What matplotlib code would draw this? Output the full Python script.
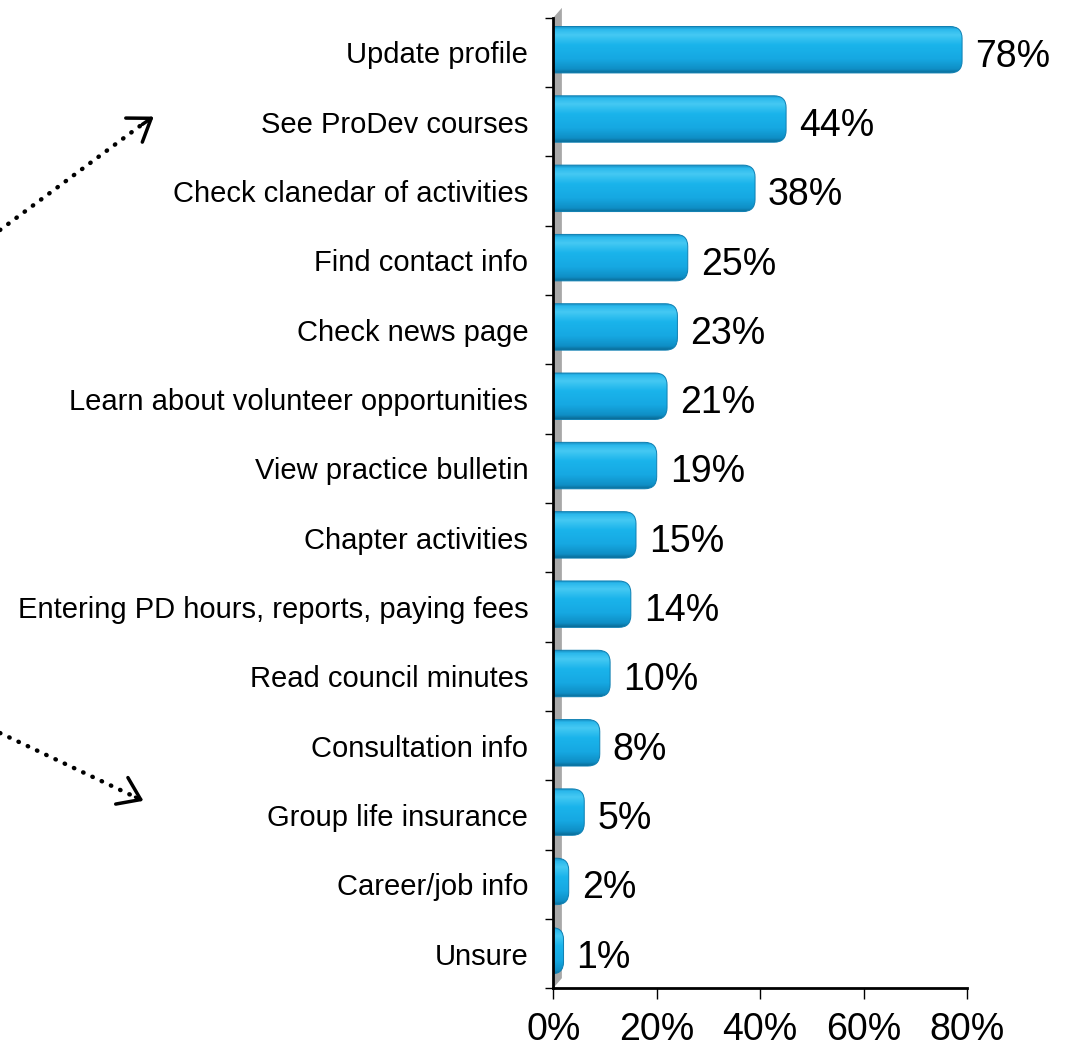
import numpy as np
import matplotlib
matplotlib.use("Agg")
import matplotlib.pyplot as plt
from matplotlib.patches import FancyBboxPatch, Polygon, FancyArrowPatch
from matplotlib.lines import Line2D
from matplotlib.colors import LinearSegmentedColormap

plt.rcParams['font.family'] = ['Liberation Sans', 'DejaVu Sans']

# Daten
categories = ["Update profile", "See ProDev courses", "Check clanedar of activities",
              "Find contact info", "Check news page", "Learn about volunteer opportunities",
              "View practice bulletin", "Chapter activities",
              "Entering PD hours, reports, paying fees", "Read council minutes",
              "Consultation info", "Group life insurance", "Career/job info", "Unsure"]
values = [78, 44, 38, 25, 23, 21, 19, 15, 14, 10, 8, 5, 2, 1]
xticks = [0, 20, 40, 60, 80]
xtick_labels = ["0%", "20%", "40%", "60%", "80%"]

DEPTH = 1.0      # 3D-Tiefe der Balken
BAR_H = 0.67
SHIFT = 0.04     # Balken leicht nach oben (3D-Effekt)

fig = plt.figure(figsize=(10.7, 10.49), dpi=100)
ax = fig.add_axes([0.517, 0.058, 0.387, 0.925])

n = len(categories)
ypos = np.arange(n)[::-1]

# Verlauf fuer die Balken (unten dunkel, oben hell)
cmap = LinearSegmentedColormap.from_list("bar", [
    (0.0, "#0a6d99"), (0.08, "#0f8fc6"), (0.3, "#16a8e2"), (0.6, "#1ab4eb"),
    (0.82, "#45c9f3"), (0.94, "#2ab8ec"), (1.0, "#1790c4")])
grad = np.linspace(0, 1, 64).reshape(-1, 1)

bars = ax.barh(ypos + SHIFT, np.array(values) + DEPTH, height=BAR_H, color='none', zorder=2)

# Umrechnung fuer runde Ecken
px_x = 0.387 * 1070 / 80.0
px_y = 0.925 * 1049 / n
r_px = 12
for b in bars:
    x0, y0, w, h = b.get_x(), b.get_y(), b.get_width(), b.get_height()
    patch = FancyBboxPatch((x0 - 4, y0), w + 4, h,
                           boxstyle="round,pad=0,rounding_size=%f" % (r_px / px_x),
                           mutation_aspect=px_x / px_y,
                           facecolor='none', edgecolor='#0d7fb2', linewidth=0.7, zorder=3)
    ax.add_patch(patch)
    im = ax.imshow(grad, cmap=cmap, origin='lower', aspect='auto',
                   extent=(x0 - 4, x0 + w, y0, y0 + h), zorder=2.5)
    im.set_clip_path(patch)

# Werte-Beschriftung
for y, v in zip(ypos, values):
    ax.text(v + DEPTH + 2.5, y - 0.06, "%d%%" % v, va='center', ha='left', fontsize=27)

# graue Wand links
ax.add_patch(Polygon([(0, 0), (0.021, 0.0103), (0.021, 1.0103), (0, 1.0)],
                     closed=True, transform=ax.transAxes, facecolor='#a8a8a8',
                     edgecolor='none', zorder=1, clip_on=False))

ax.set_xlim(0, 80)
ax.set_ylim(-0.5, n - 0.5)
ax.set_xticks(xticks)
ax.set_xticklabels(xtick_labels, fontsize=27)
ax.set_yticks(ypos)
ax.set_yticklabels(categories, fontsize=21)
ax.set_yticks(np.arange(-0.5, n, 1.0), minor=True)
ax.tick_params(axis='y', which='major', length=0, pad=18)
ax.tick_params(axis='y', which='minor', length=6, width=1, direction='out')
ax.tick_params(axis='x', length=8, width=1, direction='out', pad=9)

for s in ['top', 'right']:
    ax.spines[s].set_visible(False)
for s in ['left', 'bottom']:
    ax.spines[s].set_linewidth(2)
    ax.spines[s].set_zorder(5)

# gepunktete Pfeile links
def pfeil(p0, p1, tip):
    W, H = 1070.0, 1049.0
    fig.add_artist(Line2D([p0[0] / W, p1[0] / W], [1 - p0[1] / H, 1 - p1[1] / H],
                          linestyle=(0, (0.1, 2.2)), linewidth=3.2, color='black',
                          solid_capstyle='round', dash_capstyle='round'))
    fig.add_artist(FancyArrowPatch((p1[0] / W, 1 - p1[1] / H), (tip[0] / W, 1 - tip[1] / H),
                                   transform=fig.transFigure, arrowstyle='->,head_length=5,head_width=3.5',
                                   linewidth=2.5, color='black', mutation_scale=3))

pfeil((0, 230), (140, 126), (156, 115))
pfeil((0, 733), (133, 796), (146, 802))

fig.savefig("out.png", dpi=100)
